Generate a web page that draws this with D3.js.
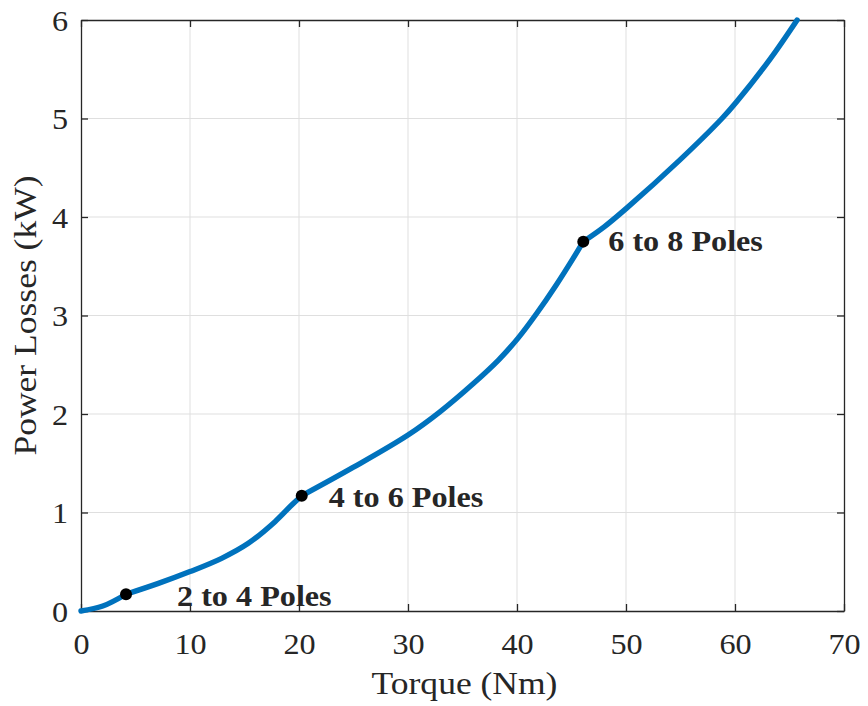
<!DOCTYPE html>
<html>
<head>
<meta charset="utf-8">
<script src="https://cdn.jsdelivr.net/npm/d3@7"></script>
<style>
  html, body { margin: 0; padding: 0; background: #fff; }
  svg { display: block; }
</style>
</head>
<body>
<svg id="chart" width="868" height="706"></svg>
<script>
// Power losses versus torque, with pole-switching transitions
const torque = [0, 2, 4.13, 7.1, 10, 12.9, 15.35, 17.8, 19.33, 20.25, 25.0, 30.0, 32.9, 36.0, 38.3, 40.1, 41.8, 43.6, 45.15, 46.08, 48.0, 50.06, 54.95, 58.8, 60.15, 63.2, 65.7];
const losses = [0, 0.05, 0.17, 0.28, 0.40, 0.535, 0.687, 0.907, 1.076, 1.17, 1.46, 1.787, 2.02, 2.31, 2.548, 2.77, 3.02, 3.31, 3.58, 3.75, 3.90, 4.09, 4.58, 5.0, 5.17, 5.60, 6.0];

const transitionLabels = ["2 to 4 Poles", "4 to 6 Poles", "6 to 8 Poles"];
const transitionTorque = [4.13, 20.25, 46.08];
const transitionLosses = [0.17, 1.17, 3.75];

const xTicks = [0, 10, 20, 30, 40, 50, 60, 70];
const yTicks = [0, 1, 2, 3, 4, 5, 6];

const margin = { left: 81, right: 24, top: 20, bottom: 95 };
const W = 868, H = 706;
const svg = d3.select("#chart");

const x = d3.scaleLinear().domain([0, 70]).range([margin.left, W - margin.right]);
const y = d3.scaleLinear().domain([0, 6]).range([H - margin.bottom, margin.top]);

const axisColor = "#262626";
const font = "'Liberation Serif', 'Times New Roman', serif";
const stretch = 1.11; // wide serif lettering

// grid
const grid = svg.append("g");
grid.selectAll("line.gx").data(xTicks.slice(1, -1)).join("line").attr("class", "gx")
  .attr("x1", d => x(d)).attr("x2", d => x(d))
  .attr("y1", y(0)).attr("y2", y(6))
  .attr("stroke", "#dfdfdf").attr("stroke-width", 1);
grid.selectAll("line.gy").data(yTicks.slice(1, -1)).join("line").attr("class", "gy")
  .attr("x1", x(0)).attr("x2", x(70))
  .attr("y1", d => y(d)).attr("y2", d => y(d))
  .attr("stroke", "#dfdfdf").attr("stroke-width", 1);

// axes (inward ticks on all four sides)
const tl = 7;
const fmt = d3.format("d");
const axBottom = svg.append("g").attr("transform", `translate(0,${y(0)})`)
  .call(d3.axisBottom(x).tickValues(xTicks).tickFormat(fmt).tickSizeInner(-tl).tickSizeOuter(0).tickPadding(0));
const axTop = svg.append("g").attr("transform", `translate(0,${y(6)})`)
  .call(d3.axisTop(x).tickValues(xTicks).tickSizeInner(-tl).tickSizeOuter(0).tickFormat(""));
const axLeft = svg.append("g").attr("transform", `translate(${x(0)},0)`)
  .call(d3.axisLeft(y).tickValues(yTicks).tickFormat(fmt).tickSizeInner(-tl).tickSizeOuter(0).tickPadding(0));
const axRight = svg.append("g").attr("transform", `translate(${x(70)},0)`)
  .call(d3.axisRight(y).tickValues(yTicks).tickSizeInner(-tl).tickSizeOuter(0).tickFormat(""));

[axBottom, axTop, axLeft, axRight].forEach(g => {
  g.select(".domain").attr("stroke", axisColor).attr("stroke-width", 1.3);
  g.selectAll(".tick line").attr("stroke", axisColor).attr("stroke-width", 1.3);
  g.selectAll(".tick text").attr("fill", axisColor)
    .style("font-family", font).style("font-size", "29px");
});
axBottom.selectAll(".tick text")
  .attr("x", null).attr("y", null).attr("dy", null)
  .attr("transform", `translate(0,43) scale(${stretch},1)`);
axLeft.selectAll(".tick text")
  .attr("x", null).attr("y", null).attr("dy", null)
  .attr("transform", `translate(-13,10) scale(${stretch},1)`);

// curve, drawn as smooth pieces joined at each pole transition
const pts = torque.map((t, i) => [t, losses[i]]);
const breaks = [0, ...transitionTorque, d3.max(torque)];
const pieces = d3.range(breaks.length - 1).map(i =>
  pts.filter(p => p[0] >= breaks[i] && p[0] <= breaks[i + 1]));
const line = d3.line().x(d => x(d[0])).y(d => y(d[1])).curve(d3.curveCatmullRom.alpha(0.5));
svg.selectAll("path.loss").data(pieces).join("path").attr("class", "loss")
  .attr("fill", "none")
  .attr("stroke", "#0072BD")
  .attr("stroke-width", 5.4)
  .attr("stroke-linejoin", "round")
  .attr("stroke-linecap", "round")
  .attr("d", line);

// transition markers and labels
const labelOffset = [[51, 12], [27, 11], [25, 9]];
svg.selectAll("circle.dot").data(transitionTorque).join("circle").attr("class", "dot")
  .attr("cx", d => x(d)).attr("cy", (d, i) => y(transitionLosses[i])).attr("r", 6)
  .attr("fill", "#000");
svg.selectAll("text.ann").data(transitionLabels).join("text").attr("class", "ann")
  .attr("transform", (d, i) =>
    `translate(${x(transitionTorque[i]) + labelOffset[i][0]},${y(transitionLosses[i]) + labelOffset[i][1]}) scale(${stretch},1)`)
  .attr("fill", axisColor)
  .style("font-family", font).style("font-size", "29px").style("font-weight", "bold")
  .text(d => d);

// axis titles
svg.append("text")
  .attr("transform", `translate(${(x(0) + x(70)) / 2 + 2},694) scale(${stretch},1)`)
  .attr("text-anchor", "middle").attr("fill", axisColor)
  .style("font-family", font).style("font-size", "32px")
  .text("Torque (Nm)");
svg.append("text")
  .attr("transform", `translate(36,${(y(0) + y(6)) / 2}) rotate(-90) scale(${stretch},1)`)
  .attr("text-anchor", "middle").attr("fill", axisColor)
  .style("font-family", font).style("font-size", "32px")
  .text("Power Losses (kW)");
</script>
</body>
</html>
